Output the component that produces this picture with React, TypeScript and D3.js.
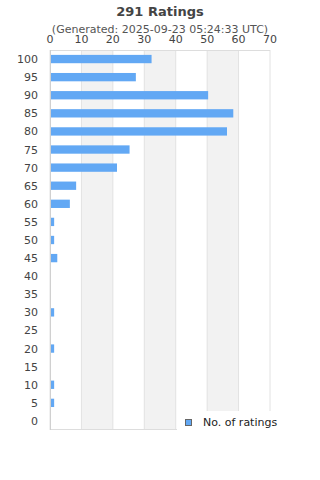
import { scaleBand, scaleLinear } from 'd3'

const RATINGS = [100, 95, 90, 85, 80, 75, 70, 65, 60, 55, 50, 45, 40, 35, 30, 25, 20, 15, 10, 5, 0]
const COUNTS = [32, 27, 50, 58, 56, 25, 21, 8, 6, 1, 1, 2, 0, 0, 1, 0, 1, 0, 1, 1, 0]
const X_TICKS = [0, 10, 20, 30, 40, 50, 60, 70]
const TITLE = '291 Ratings'
const SUBTITLE = '(Generated: 2025-09-23 05:24:33 UTC)'
const LEGEND_LABEL = 'No. of ratings'

const WIDTH = 320
const HEIGHT = 480
const PLOT = { left: 50, right: 270, top: 50, bottom: 430 }
const BAR_COLOR = '#62a8f4'
const FONT = 'DejaVu Sans, sans-serif'

export default function App() {
  const x = scaleLinear().domain([0, 70]).range([PLOT.left, PLOT.right])
  const y = scaleBand<number>().domain(RATINGS).range([PLOT.top, PLOT.bottom]).paddingInner(0.54).paddingOuter(0.27)

  return (
    <svg
      width={WIDTH}
      height={HEIGHT}
      style={{ position: 'absolute', left: 0, top: 0, display: 'block', background: '#fff' }}
      fontFamily={FONT}
    >
      <text x={160} y={16} textAnchor="middle" fontSize={13} fontWeight="bold" fill="#444">
        {TITLE}
      </text>
      <text x={160} y={33} textAnchor="middle" fontSize={11} fill="#555">
        {SUBTITLE}
      </text>

      {/* alternating bands */}
      {X_TICKS.slice(0, -1).map((t, i) =>
        i % 2 === 1 ? (
          <rect
            key={`band-${t}`}
            x={x(t)}
            y={PLOT.top}
            width={x(X_TICKS[i + 1]) - x(t)}
            height={PLOT.bottom - PLOT.top}
            fill="#f2f2f2"
          />
        ) : null,
      )}
      {X_TICKS.map((t) => (
        <line key={`grid-${t}`} x1={x(t)} x2={x(t)} y1={PLOT.top} y2={PLOT.bottom} stroke="#e2e2e2" strokeWidth={1} />
      ))}
      <line x1={PLOT.left} x2={PLOT.right} y1={PLOT.top + 0.5} y2={PLOT.top + 0.5} stroke="#ddd" />
      <line x1={PLOT.left} x2={PLOT.right} y1={PLOT.bottom - 0.5} y2={PLOT.bottom - 0.5} stroke="#ddd" />
      <line x1={PLOT.left + 0.5} x2={PLOT.left + 0.5} y1={PLOT.top} y2={PLOT.bottom} stroke="#d0d0d0" />

      {X_TICKS.map((t) => (
        <text key={`xt-${t}`} x={x(t)} y={43} textAnchor="middle" fontSize={11} fill="#444">
          {t}
        </text>
      ))}

      {RATINGS.map((r, i) => (
        <g key={`row-${r}`}>
          <text x={38} y={(y(r) ?? 0) + y.bandwidth() / 2 + 4} textAnchor="end" fontSize={11} fill="#444">
            {r}
          </text>
          {COUNTS[i] > 0 && (
            <rect x={x(0) + 1} y={y(r)} width={x(COUNTS[i]) - x(0)} height={y.bandwidth()} fill={BAR_COLOR} />
          )}
        </g>
      ))}

      {/* legend box (white, covers plot corner) */}
      <rect x={177} y={411} width={143} height={30} fill="#fff" />
      <rect x={185.5} y={419.5} width={6} height={6} fill={BAR_COLOR} stroke="#666" strokeWidth={1} />
      <text x={203} y={426} fontSize={11} fill="#222">
        {LEGEND_LABEL}
      </text>
    </svg>
  )
}
